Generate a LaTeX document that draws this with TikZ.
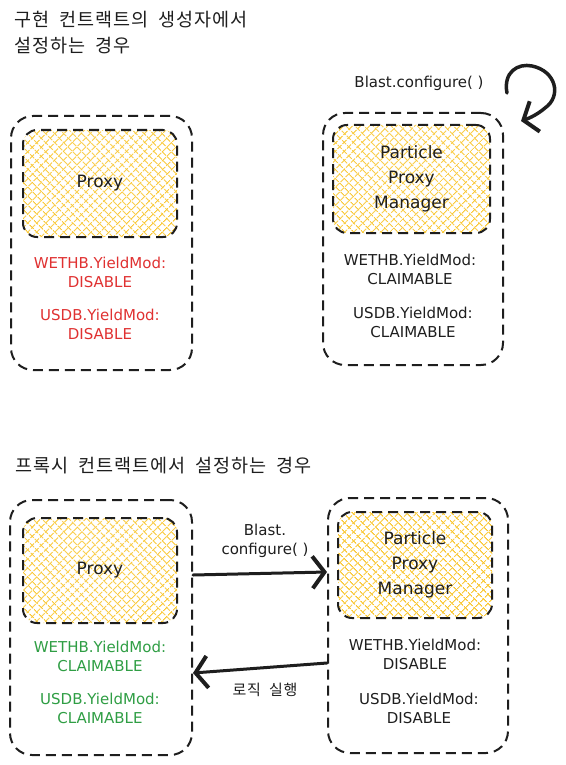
\documentclass[tikz,border=0pt]{standalone}
\usepackage{fontspec}
\setmainfont{DejaVu Sans}
\newfontfamily\kr[LetterSpace=5,WordSpace=2]{Noto Sans CJK KR}
\usetikzlibrary{patterns.meta,arrows.meta,calc}
\definecolor{hatch}{RGB}{250,198,45}
\definecolor{myred}{RGB}{224,49,49}
\definecolor{mygreen}{RGB}{47,158,68}
\definecolor{ink}{RGB}{30,30,30}
\begin{document}
\begin{tikzpicture}[x=1pt,y=-1pt,
  outerbox/.style={draw=ink, line width=2pt, dash pattern=on 10pt off 6pt, rounded corners=22pt, inner sep=0pt},
  innerbox/.style={draw=ink, line width=2pt, dash pattern=on 10pt off 6pt, rounded corners=14pt, inner sep=0pt,
    pattern={Lines[angle=45,distance=6.4pt,line width=1.1pt]}, pattern color=hatch,
    preaction={pattern={Lines[angle=-45,distance=6.4pt,line width=1.1pt]}, pattern color=hatch},
    align=center, text=ink, font=\fontsize{17}{25}\selectfont},
  lab/.style={align=center, text=ink, font=\fontsize{15}{19}\selectfont},
  ttl/.style={anchor=west, align=left, text=ink, font=\kr\fontsize{18.5}{26}\selectfont},
  barb/.style={-{Straight Barb[length=12pt,width=32pt,line width=4pt]}},
  arr/.style={draw=ink, line width=3pt, line cap=round, barb}
]
\fill[white] (0,0) rectangle (565,765);
\useasboundingbox (0,0) rectangle (565,765);

% titles
\node[ttl] (t1) at (11,33) {구현 컨트랙트의 생성자에서\\설정하는 경우};
\node[ttl] (t2) at (12,466) {프록시 컨트랙트에서 설정하는 경우};

% top-left
\node[outerbox, minimum width=181pt, minimum height=254pt] (A1) at (101.5,243) {};
\node[innerbox, minimum width=154pt, minimum height=107pt] (A1i) at (100,183.5) {Proxy};
\node[lab, text=myred] (A1a) at (100,272.5) {WETHB.YieldMod:\\DISABLE};
\node[lab, text=myred] (A1b) at (100,324) {USDB.YieldMod:\\DISABLE};

% top-right
\node[outerbox, minimum width=180pt, minimum height=252pt] (A2) at (413,239) {};
\node[innerbox, minimum width=157pt, minimum height=108pt] (A2i) at (411.5,179) {Particle\\Proxy\\Manager};
\node[lab] (A2a) at (410,269) {WETHB.YieldMod:\\CLAIMABLE};
\node[lab] (A2b) at (413,322.5) {USDB.YieldMod:\\CLAIMABLE};
\node[lab] (cfg1) at (419,83) {Blast.configure( )};

% self loop
\coordinate (s1) at (507,93);
\coordinate (s2) at (521,121);
\draw[draw=ink, line width=3.5pt, line cap=round, barb]
  (s1) .. controls (503,72) and (518,63) .. (532,66)
       .. controls (556,71) and (562,96) .. (545,108)
       .. controls (538,114) and (530,118) .. (s2);

% bottom-left
\node[outerbox, minimum width=182pt, minimum height=255pt] (B1) at (101,627.5) {};
\node[innerbox, minimum width=154pt, minimum height=105pt] (B1i) at (100,570.5) {Proxy};
\node[lab, text=mygreen] (B1a) at (100,656.5) {WETHB.YieldMod:\\CLAIMABLE};
\node[lab, text=mygreen] (B1b) at (100,708) {USDB.YieldMod:\\CLAIMABLE};

% bottom-right
\node[outerbox, minimum width=180pt, minimum height=255pt] (B2) at (418,625.5) {};
\node[innerbox, minimum width=154pt, minimum height=106pt] (B2i) at (415,565) {Particle\\Proxy\\Manager};
\node[lab] (B2a) at (415,654) {WETHB.YieldMod:\\DISABLE};
\node[lab] (B2b) at (419,708) {USDB.YieldMod:\\DISABLE};

% connectors
\draw[arr] ([yshift=52.5pt]B1.east) -- ([yshift=53.5pt]B2.west);
\draw[arr] ([yshift=-37.5pt]B2.west) -- ([yshift=-45.5pt]B1.east);
\node[lab] (cfg2) at (265,541) {Blast.\\configure( )};
\node[lab, font=\kr\fontsize{15}{19}\selectfont] (run) at (265,690) {로직 실행};
\end{tikzpicture}
\end{document}
